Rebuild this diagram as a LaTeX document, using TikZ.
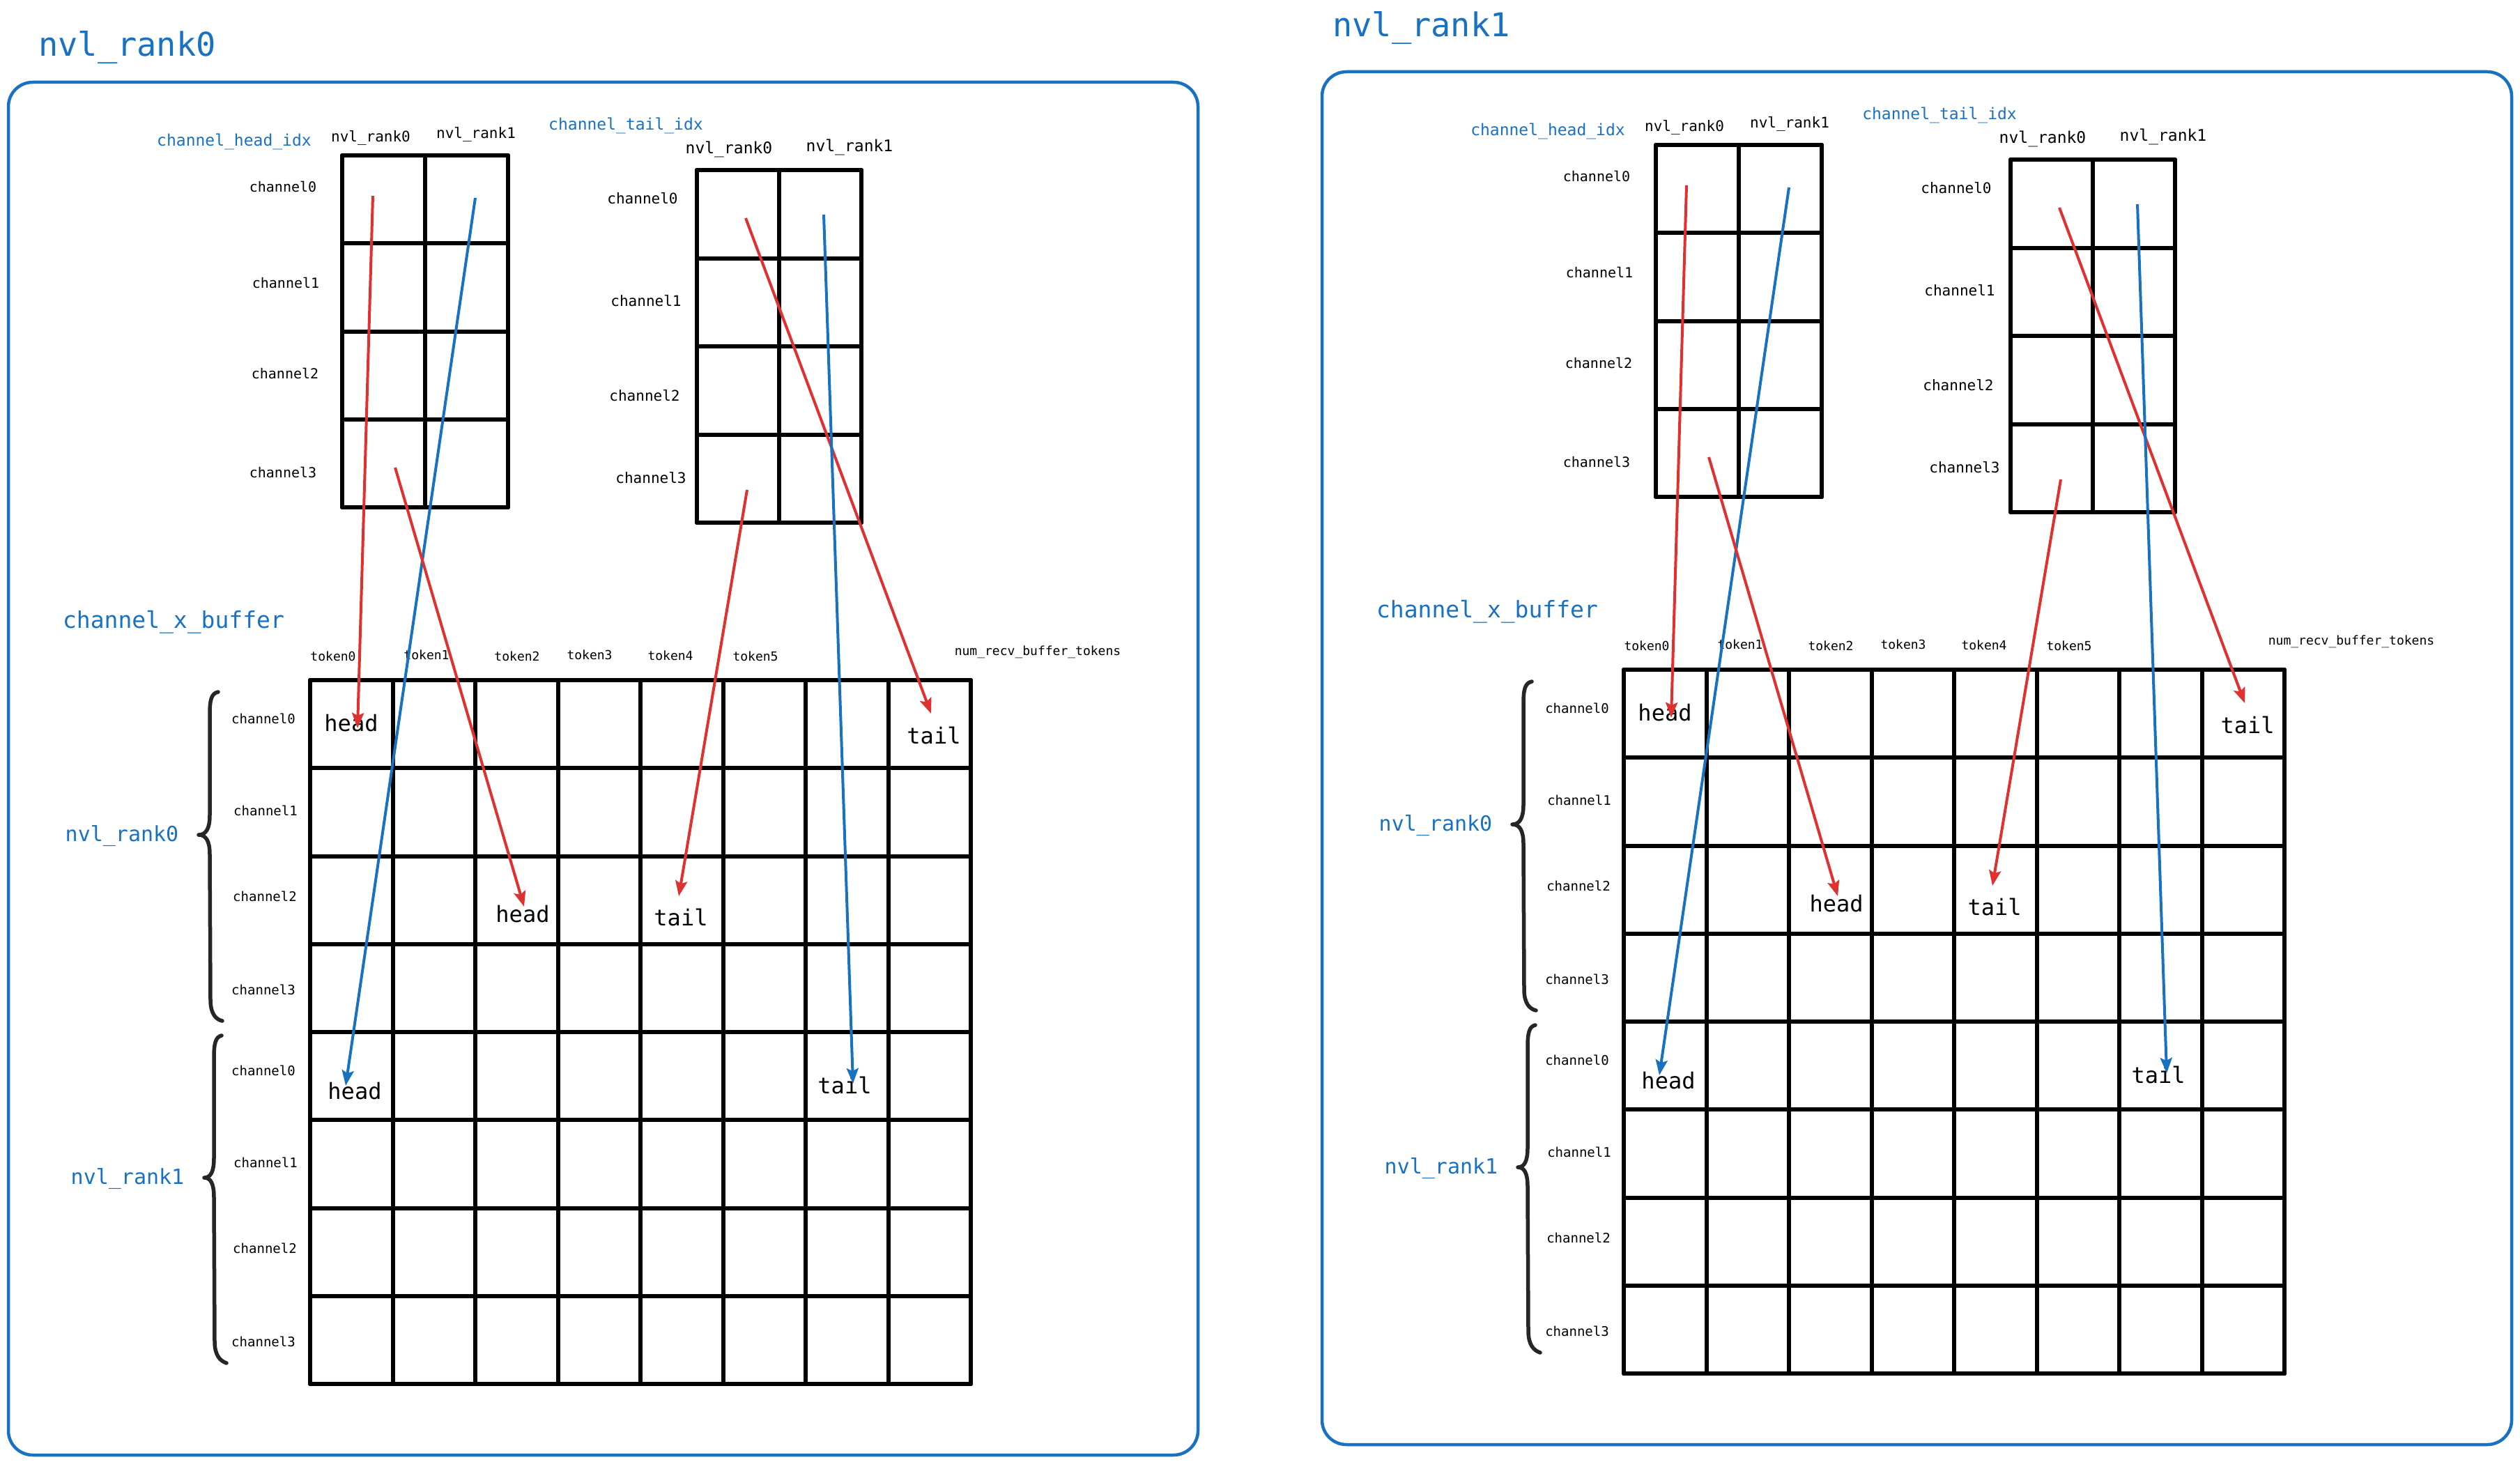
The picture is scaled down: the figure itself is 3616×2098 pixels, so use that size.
\documentclass[tikz,border=0pt]{standalone}
\usepackage{fontspec}
\setmonofont{DejaVu Sans Mono}
\usetikzlibrary{arrows.meta}
\definecolor{exblue}{HTML}{1971C2}
\definecolor{exred}{HTML}{E03131}
\newcommand\fsz[1]{\fontsize{#1}{#1}\selectfont\ttfamily}
\tikzset{
  lbl/.style={inner sep=0pt, anchor=center, text=black},
  bluelbl/.style={inner sep=0pt, anchor=center, text=exblue},
  gridline/.style={line width=6pt, line cap=round, line join=round, draw=black},
  bracestyle/.style={line width=5.5pt, line cap=round, line join=round, draw=black!85},
  panelbox/.style={line width=4.5pt, draw=exblue, rounded corners=35pt},
  redarrow/.style={line width=4pt, draw=exred, -{Stealth[length=22pt,width=17pt,inset=4pt]}},
  bluearrow/.style={line width=4pt, draw=exblue, -{Stealth[length=22pt,width=17pt,inset=4pt]}},
}
\newcommand\drawpanel[1]{%
  \draw[panelbox] (12,118) rectangle (1719,2088);
  % head index table
  \foreach \i in {0,1,2} {\draw[gridline] ({491+119*\i},223) -- ({491+119*\i},728);}
  \foreach \j in {0,...,4} {\draw[gridline] (491,{223+126.25*\j}) -- (729,{223+126.25*\j});}
  \node[bluelbl, font=\fsz{23}] (#1-headidx) at (336,203) {channel\_head\_idx};
  \node[lbl, font=\fsz{21}] (#1-hr0) at (532,198) {nvl\_rank0};
  \node[lbl, font=\fsz{21}] (#1-hr1) at (683,193) {nvl\_rank1};
  \node[lbl, font=\fsz{20}] (#1-hc0) at (406,268) {channel0};
  \node[lbl, font=\fsz{20}] (#1-hc1) at (410,406) {channel1};
  \node[lbl, font=\fsz{20}] (#1-hc2) at (409,536) {channel2};
  \node[lbl, font=\fsz{20}] (#1-hc3) at (406,678) {channel3};
  % tail index table
  \foreach \i in {0,1,2} {\draw[gridline] ({1000+118*\i},244) -- ({1000+118*\i},750);}
  \foreach \j in {0,...,4} {\draw[gridline] (1000,{244+126.5*\j}) -- (1236,{244+126.5*\j});}
  \node[bluelbl, font=\fsz{23}] (#1-tailidx) at (898,180) {channel\_tail\_idx};
  \node[lbl, font=\fsz{23}] (#1-tr0) at (1046,214) {nvl\_rank0};
  \node[lbl, font=\fsz{23}] (#1-tr1) at (1219,211) {nvl\_rank1};
  \node[lbl, font=\fsz{21}] (#1-tc0) at (922,285) {channel0};
  \node[lbl, font=\fsz{21}] (#1-tc1) at (927,432) {channel1};
  \node[lbl, font=\fsz{21}] (#1-tc2) at (925,568) {channel2};
  \node[lbl, font=\fsz{21}] (#1-tc3) at (934,686) {channel3};
  % buffer
  \node[bluelbl, font=\fsz{33}] (#1-buf) at (249,893) {channel\_x\_buffer};
  \foreach \i in {0,...,8} {\draw[gridline] ({445+118.5*\i},976) -- ({445+118.5*\i},1986);}
  \foreach \j in {0,...,8} {\draw[gridline] (445,{976+126.25*\j}) -- (1393,{976+126.25*\j});}
  \node[lbl, font=\fsz{18}] (#1-k0) at (478,942) {token0};
  \node[lbl, font=\fsz{18}] (#1-k1) at (612,940) {token1};
  \node[lbl, font=\fsz{18}] (#1-k2) at (742,942) {token2};
  \node[lbl, font=\fsz{18}] (#1-k3) at (846,940) {token3};
  \node[lbl, font=\fsz{18}] (#1-k4) at (962,941) {token4};
  \node[lbl, font=\fsz{18}] (#1-k5) at (1084,942) {token5};
  \node[lbl, font=\fsz{18}] (#1-num) at (1489,936) {num\_recv\_buffer\_tokens};
  \node[lbl, font=\fsz{19}] (#1-g0) at (378,1031) {channel0};
  \node[lbl, font=\fsz{19}] (#1-g1) at (381,1163) {channel1};
  \node[lbl, font=\fsz{19}] (#1-g2) at (380,1286) {channel2};
  \node[lbl, font=\fsz{19}] (#1-g3) at (378,1420) {channel3};
  \node[lbl, font=\fsz{19}] (#1-g4) at (378,1536) {channel0};
  \node[lbl, font=\fsz{19}] (#1-g5) at (381,1668) {channel1};
  \node[lbl, font=\fsz{19}] (#1-g6) at (380,1791) {channel2};
  \node[lbl, font=\fsz{19}] (#1-g7) at (378,1925) {channel3};
  % braces
  \draw[bracestyle] (313,993) .. controls (303,995) and (301,1005) .. (301,1025) -- (301,1170)
    .. controls (301,1190) and (295,1198) .. (285,1198)
    .. controls (295,1198) and (301,1206) .. (301,1226) -- (302,1435)
    .. controls (302,1455) and (310,1463) .. (319,1465);
  \draw[bracestyle] (318,1486) .. controls (309,1488) and (307,1498) .. (307,1518) -- (307,1662)
    .. controls (307,1682) and (302,1690) .. (293,1690)
    .. controls (302,1690) and (307,1698) .. (307,1718) -- (308,1925)
    .. controls (308,1945) and (316,1953) .. (325,1956);
  \node[bluelbl, font=\fsz{30}] (#1-br0) at (175,1200) {nvl\_rank0};
  \node[bluelbl, font=\fsz{30}] (#1-br1) at (183,1692) {nvl\_rank1};
  % cell labels
  \node[lbl, font=\fsz{32}] (#1-head0) at (504,1038) {head};
  \node[lbl, font=\fsz{32}] (#1-tail0) at (1340,1055) {tail};
  \node[lbl, font=\fsz{32}] (#1-head2) at (750,1312) {head};
  \node[lbl, font=\fsz{32}] (#1-tail2) at (977,1316) {tail};
  \node[lbl, font=\fsz{32}] (#1-head4) at (509,1566) {head};
  \node[lbl, font=\fsz{32}] (#1-tail4) at (1212,1557) {tail};
  % arrow coordinates
  \coordinate (#1-s1) at (535,281);  \coordinate (#1-e1) at (513,1045);
  \coordinate (#1-s2) at (682,284);  \coordinate (#1-e2) at (496,1558);
  \coordinate (#1-s3) at (567,671);  \coordinate (#1-e3) at (752,1301);
  \coordinate (#1-s4) at (1070,313); \coordinate (#1-e4) at (1336,1024);
  \coordinate (#1-s5) at (1182,308); \coordinate (#1-e5) at (1224,1555);
  \coordinate (#1-s6) at (1072,703); \coordinate (#1-e6) at (974,1286);
  \draw[redarrow] (#1-s1) -- (#1-e1);
  \draw[bluearrow] (#1-s2) -- (#1-e2);
  \draw[redarrow] (#1-s3) -- (#1-e3);
  \draw[redarrow] (#1-s4) -- (#1-e4);
  \draw[bluearrow] (#1-s5) -- (#1-e5);
  \draw[redarrow] (#1-s6) -- (#1-e6);
}
\begin{document}
\begin{tikzpicture}[x=1pt,y=-1pt]
  \useasboundingbox[fill=white] (0,0) rectangle (3616,2098);
  \node[bluelbl, anchor=west, font=\fsz{47}] (title0) at (55,68) {nvl\_rank0};
  \node[bluelbl, anchor=west, font=\fsz{47}] (title1) at (1912,40) {nvl\_rank1};
  \begin{scope}
    \drawpanel{L}
  \end{scope}
  \begin{scope}[shift={(1885,-15)}]
    \drawpanel{R}
  \end{scope}
\end{tikzpicture}
\end{document}
